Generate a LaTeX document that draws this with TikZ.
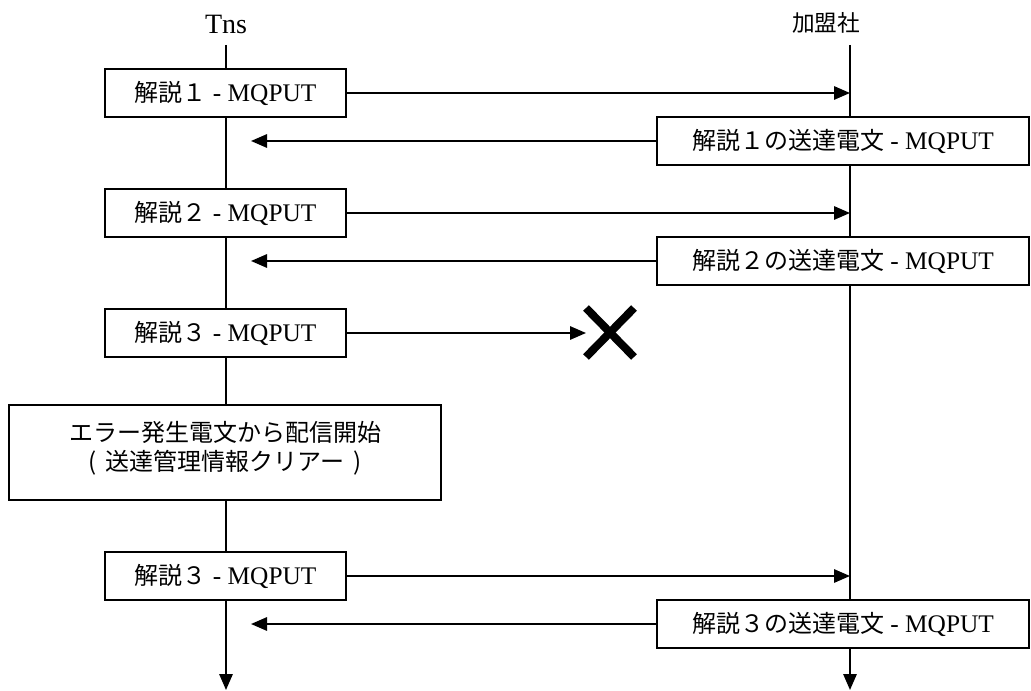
\documentclass[tikz,border=0pt]{standalone}
\usepackage{fontspec}
\setmainfont{Liberation Serif}
\newfontfamily\jp{Noto Sans CJK JP}
\usetikzlibrary{arrows.meta}
\begin{document}
\begin{tikzpicture}[x=0.75pt,y=-0.75pt,
  line width=1.5pt,
  tip/.style={-{Triangle[length=12pt,width=10pt]}},
  msgbox/.style={draw,fill=white,line width=1.5pt,inner sep=0pt,font=\fontsize{19}{22}\selectfont},
  lbl/.style={font=\fontsize{21}{24}\selectfont}]
\useasboundingbox (0,0) rectangle (1031,691);
% lifelines
\node[lbl] (tns) at (226,24) {Tns};
\node[lbl] (kam) at (826,23) {\jp\fontsize{17}{22}\selectfont 加盟社};
\coordinate (lt) at (226,45);
\coordinate (lb) at (226,690);
\coordinate (rt) at (850,45);
\coordinate (rb) at (850,690);
\draw[tip] (lt) -- (lb);
\draw[tip] (rt) -- (rb);
% boxes
\newcommand{\jt}[1]{{\jp\fontsize{18}{22}\selectfont #1}}
\node[msgbox,minimum width=241pt*0.75,minimum height=48pt*0.75] (b1) at (225.5,93) {\jt{解説１} - MQPUT};
\node[msgbox,minimum width=372pt*0.75,minimum height=48pt*0.75] (b2) at (843,141) {\jt{解説１の送達電文} - MQPUT};
\node[msgbox,minimum width=241pt*0.75,minimum height=48pt*0.75] (b3) at (225.5,213) {\jt{解説２} - MQPUT};
\node[msgbox,minimum width=372pt*0.75,minimum height=48pt*0.75] (b4) at (843,261) {\jt{解説２の送達電文} - MQPUT};
\node[msgbox,minimum width=241pt*0.75,minimum height=48pt*0.75] (b5) at (225.5,333) {\jt{解説３} - MQPUT};
\node[msgbox,minimum width=432pt*0.75,minimum height=95pt*0.75] (big) at (225,452) {};
\node[align=center,font=\jp\fontsize{18}{22}\selectfont] (bigtxt) at (225,448) {エラー発生電文から配信開始\\(\hspace{7pt}送達管理情報クリアー\hspace{7pt})};
\node[msgbox,minimum width=241pt*0.75,minimum height=48pt*0.75] (b6) at (225.5,576) {\jt{解説３} - MQPUT};
\node[msgbox,minimum width=372pt*0.75,minimum height=48pt*0.75] (b7) at (843,624) {\jt{解説３の送達電文} - MQPUT};
% targets
\coordinate (r1) at (850,93);
\coordinate (l2) at (251,141);
\coordinate (r3) at (850,213);
\coordinate (l4) at (251,261);
\coordinate (x5) at (586,333);
\coordinate (r6) at (850,576);
\coordinate (l7) at (251,624);
\draw[tip] (b1.east) -- (r1);
\draw[tip] (b2.west) -- (l2);
\draw[tip] (b3.east) -- (r3);
\draw[tip] (b4.west) -- (l4);
\draw[tip] (b5.east) -- (x5);
\draw[tip] (b6.east) -- (r6);
\draw[tip] (b7.west) -- (l7);
% cross
\coordinate (xa) at (586,308);
\coordinate (xb) at (634,357);
\coordinate (xc) at (634,308);
\coordinate (xd) at (586,357);
\draw[line width=6pt] (xa) -- (xb);
\draw[line width=6pt] (xc) -- (xd);
\end{tikzpicture}
\end{document}
